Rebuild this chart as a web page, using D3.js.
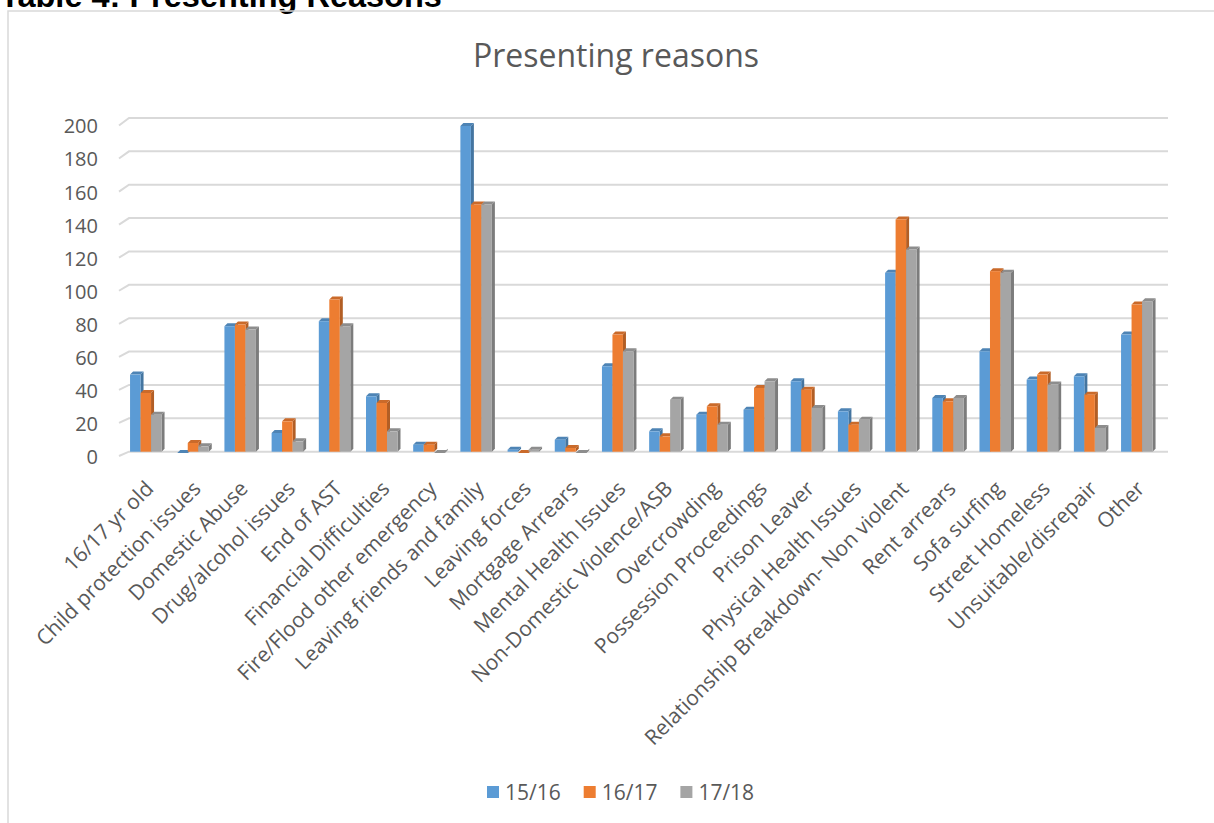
<!DOCTYPE html>
<html>
<head>
<meta charset="utf-8">
<script src="https://cdn.jsdelivr.net/npm/d3@7"></script>
<style>
  html, body { margin: 0; padding: 0; background: #ffffff; }
  svg { display: block; }
</style>
</head>
<body>
<svg id="chart" width="1214" height="823"></svg>
<script>
// Presenting reasons, counts per year
const categories = [
  "16/17 yr old", "Child protection issues", "Domestic Abuse", "Drug/alcohol issues",
  "End of AST", "Financial Difficulties", "Fire/Flood other emergency",
  "Leaving friends and family", "Leaving forces", "Mortgage Arrears",
  "Mental Health Issues", "Non-Domestic Violence/ASB", "Overcrowding",
  "Possession Proceedings", "Prison Leaver", "Physical Health Issues",
  "Relationship Breakdown- Non violent", "Rent arrears", "Sofa surfing",
  "Street Homeless", "Unsuitable/disrepair", "Other"
];
const seriesNames = ["15/16", "16/17", "17/18"];
const values1516 = [48, 1, 77, 13, 80, 35, 6, 197, 3, 9, 53, 14, 24, 27, 44, 26, 109, 34, 62, 45, 47, 72];
const values1617 = [37, 7, 78, 20, 93, 31, 6, 150, 1, 4, 72, 11, 29, 40, 39, 18, 141, 32, 110, 48, 36, 90];
const values1718 = [24, 5, 75, 8, 77, 14, 1, 150, 3, 1, 62, 33, 18, 44, 28, 21, 123, 34, 109, 42, 16, 92];
const yTicks = [0, 20, 40, 60, 80, 100, 120, 140, 160, 180, 200];
const seriesColors = ["#5b9bd5", "#ed7d31", "#a5a5a5"];

const seriesValues = [values1516, values1617, values1718];
const rows = categories.map((c, i) => ({
  category: c,
  values: seriesNames.map((s, k) => ({ series: s, k, value: seriesValues[k][i] }))
}));

const svg = d3.select("#chart");
const FONT = "'Open Sans', 'Noto Sans', sans-serif";
const TEXT = "#595959";

// heading above the chart frame
svg.append("text")
  .attr("x", 0).attr("y", 7)
  .attr("font-family", "'Liberation Sans', Arial, sans-serif")
  .attr("font-weight", "bold")
  .attr("font-size", 32.5)
  .attr("fill", "#000")
  .text("Table 4: Presenting Reasons");

// chart frame
svg.append("rect")
  .attr("x", 8).attr("y", 11)
  .attr("width", 1400).attr("height", 1000)
  .attr("fill", "none")
  .attr("stroke", "#d9d9d9")
  .attr("stroke-width", 1.5);

// chart title
svg.append("text")
  .attr("x", 616).attr("y", 67)
  .attr("text-anchor", "middle")
  .attr("font-family", FONT)
  .attr("font-size", 32)
  .attr("fill", TEXT)
  .text("Presenting reasons");

// scales: back wall for grid & bars, front edge for axis labels
const yBack = d3.scaleLinear().domain([0, 200]).range([451.7, 118]);
const yFront = d3.scaleLinear().domain([0, 200]).range([456, 125.5]);
const x0 = d3.scaleBand().domain(categories).range([122.2, 1160.4])
  .paddingInner(0.3325).paddingOuter(0.3325 / 2);
const x1 = d3.scaleBand().domain(seriesNames).range([0, x0.bandwidth()]);

const gridLeftFront = 119, gridLeftBack = 129, gridRight = 1168;

// gridlines with the small perspective step at the left
const grid = svg.append("g").attr("class", "grid");
grid.selectAll("path")
  .data(yTicks)
  .join("path")
  .attr("d", v => `M${gridLeftFront},${yFront(v)}L${gridLeftBack},${yBack(v)}L${gridRight},${yBack(v)}`)
  .attr("fill", "none")
  .attr("stroke", "#d9d9d9")
  .attr("stroke-width", 2);

// y axis labels
const yAxis = d3.axisLeft(yFront).tickValues(yTicks).tickSize(0).tickPadding(0);
const yg = svg.append("g").attr("transform", "translate(98,1)").call(yAxis);
yg.select(".domain").remove();
yg.selectAll("text")
  .attr("font-family", FONT)
  .attr("font-size", 20)
  .attr("fill", TEXT);

// columns with a shallow 3D face
const depth = 3;
const base = yBack(0);
const groups = svg.append("g").selectAll("g")
  .data(rows)
  .join("g")
  .attr("transform", d => `translate(${x0(d.category)},0)`);

const bars = groups.selectAll("g")
  .data(d => d.values)
  .join("g");

bars.append("path") // side face
  .attr("d", d => {
    const x = x1(d.series), w = x1.bandwidth(), y = yBack(d.value);
    return `M${x + w},${y + depth}L${x + w + depth},${y}L${x + w + depth},${base - depth}L${x + w},${base}Z`;
  })
  .attr("fill", d => d3.color(seriesColors[d.k]).darker(0.8));

bars.append("path") // top face
  .attr("d", d => {
    const x = x1(d.series), w = x1.bandwidth(), y = yBack(d.value);
    return `M${x},${y + depth}L${x + depth},${y}L${x + w + depth},${y}L${x + w},${y + depth}Z`;
  })
  .attr("fill", d => d3.color(seriesColors[d.k]).darker(0.45));

bars.append("rect") // front face
  .attr("x", d => x1(d.series))
  .attr("width", x1.bandwidth())
  .attr("y", d => yBack(d.value) + depth)
  .attr("height", d => Math.max(0, base - yBack(d.value) - depth))
  .attr("fill", d => seriesColors[d.k]);

// rotated category labels
svg.append("g").selectAll("text")
  .data(categories)
  .join("text")
  .attr("transform", c => `translate(${x0(c) + x0.bandwidth() / 2 + 9},490) rotate(-45)`)
  .attr("text-anchor", "end")
  .attr("font-family", FONT)
  .attr("font-size", 21)
  .attr("fill", TEXT)
  .text(c => c);

// legend
const legend = svg.append("g").selectAll("g")
  .data(seriesNames)
  .join("g")
  .attr("transform", (d, i) => `translate(${487 + i * 96.7},786)`);
legend.append("rect")
  .attr("width", 12).attr("height", 12)
  .attr("fill", (d, i) => seriesColors[i]);
legend.append("text")
  .attr("x", 18).attr("y", 14)
  .attr("font-family", FONT)
  .attr("font-size", 21)
  .attr("fill", TEXT)
  .text(d => d);
</script>
</body>
</html>
